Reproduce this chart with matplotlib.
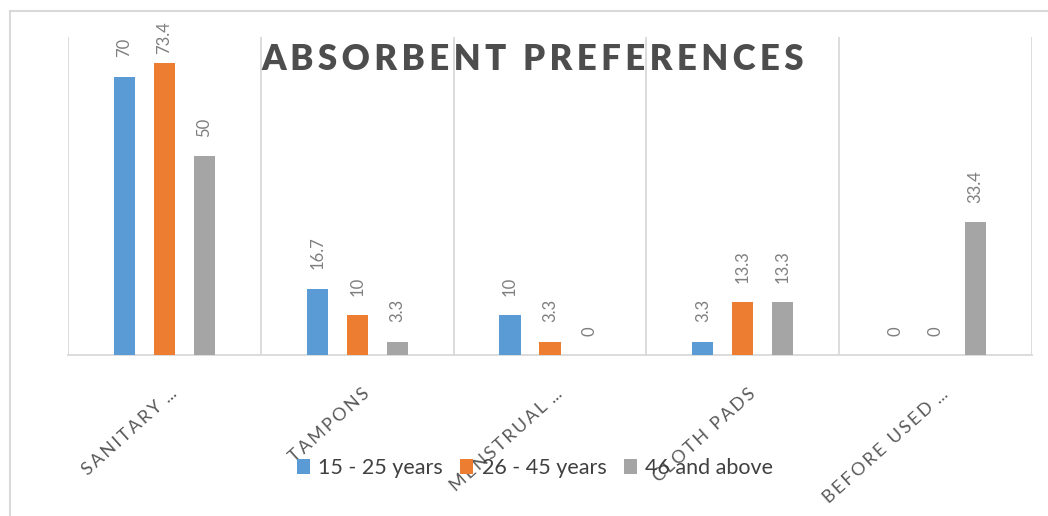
import matplotlib
matplotlib.use("Agg")
import matplotlib.pyplot as plt
import matplotlib.transforms as mtransforms
from matplotlib.lines import Line2D
from matplotlib.patches import Patch
import numpy as np

categories = ["SANITARY ...", "TAMPONS", "MENSTRUAL ...", "CLOTH PADS", "BEFORE USED ..."]
series_names = ["15 - 25 years", "26 - 45 years", "46 and above"]
s1 = [70, 16.7, 10, 3.3, 0]
s2 = [73.4, 10, 3.3, 13.3, 0]
s3 = [50, 3.3, 0, 13.3, 33.4]
colors = ["#5b9bd5", "#ed7d31", "#a5a5a5"]
title = "ABSORBENT PREFERENCES"

W, H = 1048, 516
fig = plt.figure(figsize=(W / 100, H / 100), dpi=100)
plt.rcParams['font.family'] = ['Lato', 'DejaVu Sans']

ax = fig.add_axes([68 / W, 1 - 355 / H, 964 / W, 318 / H])
ax.set_xlim(-0.5, len(categories) - 0.5)
ax.set_ylim(0, 80)

x = np.arange(len(categories))
bw = 0.11
step = 0.207
for i, vals in enumerate([s1, s2, s3]):
    xs = x + (i - 1) * step
    ax.bar(xs, vals, width=bw, color=colors[i], zorder=3)
    for xi, v in zip(xs, vals):
        t = ax.annotate(f"{v:g}", (xi, v), xytext=(0, 14), textcoords="offset points",
                        rotation=90, ha="center", va="bottom", fontsize=12,
                        color="#7f7f7f", zorder=4)
        if v > 72:
            t.xyann = (0, 7)

for b in np.arange(-0.5, len(categories), 1.0):
    ax.axvline(b, color="#d9d9d9", lw=1.3, zorder=1)

for s in ["top", "right", "left"]:
    ax.spines[s].set_visible(False)
ax.spines["bottom"].set_color("#d9d9d9")
ax.spines["bottom"].set_linewidth(1.3)
ax.set_yticks([])
ax.set_xticks(x)
ax.tick_params(axis="x", length=0, pad=22)
thin = "\u2009"
spaced = [thin.join(list(c.replace(" ...", "…"))).replace("…", " ...") for c in categories]
ax.set_xticklabels(spaced, rotation=42, ha="right", va="top", rotation_mode="anchor",
                   fontsize=13, color="#595959")
offset = mtransforms.ScaledTranslation(5 / 100, 0, fig.dpi_scale_trans)
for lab in ax.get_xticklabels():
    lab.set_transform(lab.get_transform() + offset)

fig.text(533 / W, 1 - 60 / H, thin.join(list(title)),
         ha="center", va="center", fontsize=25, fontweight="heavy", color="#4d4d4d")

handles = [Patch(facecolor=c, edgecolor="none") for c in colors]
fig.legend(handles, series_names, loc="center", bbox_to_anchor=(535 / W, 1 - 468 / H),
           ncol=3, frameon=False, fontsize=15.5, handlelength=0.6, handleheight=0.65,
           handletextpad=0.4, columnspacing=0.8, labelcolor="#404040")

fig.add_artist(Line2D([10 / W, 1], [1 - 11 / H, 1 - 11 / H], transform=fig.transFigure,
                      color="#d9d9d9", lw=1.5))
fig.add_artist(Line2D([9.5 / W, 9.5 / W], [0, 1 - 11 / H], transform=fig.transFigure,
                      color="#d9d9d9", lw=1.5))

fig.savefig("out.png", dpi=100, facecolor="white")
